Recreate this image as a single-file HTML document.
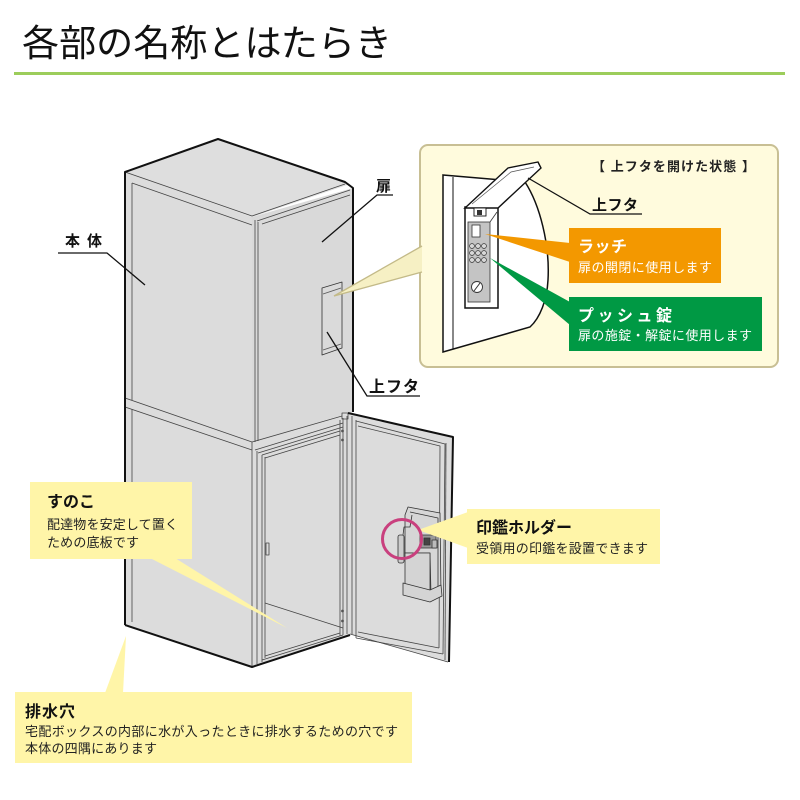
<!DOCTYPE html>
<html><head><meta charset="utf-8"><style>
html,body{margin:0;padding:0;background:#fff;}
svg{display:block;}
text{font-family:"Liberation Sans","Noto Sans CJK JP",sans-serif;}
.b{font-weight:bold;}
</style></head><body>
<svg width="800" height="800" viewBox="0 0 800 800" xmlns="http://www.w3.org/2000/svg">
<!-- Title -->
<text x="22" y="56" font-size="37" fill="#111" textLength="370" lengthAdjust="spacingAndGlyphs">各部の名称とはたらき</text>
<rect x="14" y="72" width="771" height="3" fill="#9ccd5b"/>

<!-- ===== Cabinet ===== -->
<g stroke-linejoin="round">
<polygon points="125,172 252,217 252,442 125,398" fill="#dcdcdc"/>
<polygon points="125,172 218,139 350,184 252,217" fill="#dedede"/>
<polygon points="252,217 353,188 353,412 252,442" fill="#d9d9d9"/>
<polygon points="125,398 252,442 252,667 125,625" fill="#dcdcdc"/>
<polygon points="252,442 350,413 350,635 252,667" fill="#dcdcdc"/>
<polygon points="348,413 453,437 449,662 350,634" fill="#dcdcdc"/>

<g fill="none" stroke="#444" stroke-width="0.8">
<polyline points="125,172 252,216 345,184"/>
<polyline points="132,183 252,225"/>
<polyline points="257,221 350,190"/>
<polyline points="262,224 350,195"/>
<line x1="255" y1="220" x2="255" y2="442"/>
<line x1="258" y1="222" x2="258" y2="441"/>
<line x1="132" y1="183" x2="132" y2="400"/>
<polyline points="125,398 252,442 342,416"/>
<polyline points="125,407 252,450"/>
<line x1="252" y1="442" x2="252" y2="667"/>
<line x1="132" y1="409" x2="132" y2="622"/>
<polyline points="255,450 343,423"/>
<polyline points="258,453 343,427"/>
<line x1="257" y1="451" x2="257" y2="664"/>
<line x1="262" y1="455" x2="262" y2="662"/>
<line x1="265" y1="457" x2="265" y2="658"/>
<polyline points="262,455 340,431"/>
<polyline points="265,458 340,435"/>
<polyline points="265,603 343,628"/>
<polyline points="262,660 343,635"/>
<polyline points="265,656 340,633"/>
<rect x="266" y="543" width="3" height="12"/>
<line x1="340" y1="420" x2="340" y2="636"/>
<line x1="343" y1="418" x2="343" y2="635"/>
<line x1="347" y1="416" x2="347" y2="634"/>
<rect x="342" y="413" width="6" height="6"/>
<line x1="352" y1="416" x2="352" y2="634"/>
<line x1="356" y1="420" x2="356" y2="638"/>
<polyline points="356,421 445,444 443,654"/>
<polyline points="358,426 440,446 439,648"/>
<polyline points="356,638 443,654"/>
<polyline points="358,632 439,648"/>
<line x1="446" y1="443" x2="445" y2="660"/>
<polyline points="350,634 448,662"/>
</g>
<g fill="#555">
<circle cx="342.5" cy="431" r="1.4"/><circle cx="342.5" cy="440" r="1.4"/>
<circle cx="342.5" cy="611" r="1.4"/><circle cx="342.5" cy="621" r="1.4"/>
</g>
<polygon points="322,288 342,282 342,348 322,355" fill="#dadada" stroke="#333" stroke-width="0.8"/>
<polyline points="323,294 341,288" fill="none" stroke="#555" stroke-width="0.7"/>
<polyline points="323,350 341,344" fill="none" stroke="#555" stroke-width="0.7"/>

<!-- stamp holder -->
<g fill="none" stroke="#333" stroke-width="0.8">
<polygon points="408,507 440,513 441,595 431,595 430,553 405,553 405,515" fill="#d6d6d6"/>
<polyline points="410,512 438,518 438,593"/>
<rect x="405" y="553" width="25" height="37" fill="#d4d4d4"/>
<polygon points="403,583 403,595 430,602 442,596 441,585 430,590" fill="#d4d4d4"/>
<rect x="398" y="535" width="6" height="28" rx="2" fill="#ccc"/>
<polyline points="403,535 404,527 410,527 412,515"/>
<rect x="420" y="535" width="16" height="13" fill="#999"/>
<rect x="424" y="538" width="6" height="7" fill="#444"/>
<rect x="432" y="540" width="5" height="8" fill="#bbb"/>
</g>

<g fill="none" stroke="#111" stroke-width="2">
<polyline points="125,625 125,172 218,139 345,182 353,188 353,412"/>
<polyline points="125,625 252,667 350,635"/>
<polyline points="348,413 453,437 449,662"/>
</g>
</g>

<!-- labels on cabinet -->
<g fill="none" stroke="#111" stroke-width="1.3">
<polyline points="58,253 107,253 145,285"/>
<polyline points="393,195 377,195 322,242"/>
<polyline points="327,332 367,396 420,396"/>
</g>
<text x="65" y="246" font-size="15" class="b" fill="#111" textLength="37" lengthAdjust="spacing">本 体</text>
<text x="376" y="191" font-size="15" class="b" fill="#111">扉</text>
<text x="369" y="392" font-size="16" class="b" fill="#111" textLength="50">上フタ</text>

<!-- upper callout panel -->
<rect x="420" y="145" width="358" height="222" rx="8" fill="#fffbdd" stroke="#c8bf94" stroke-width="2"/>
<polygon points="334,296 422,246 422,272" fill="#f6f0c4"/>
<polyline points="422,246 334,296 422,272" fill="none" stroke="#c3ba88" stroke-width="1.3"/>

<text x="592" y="171" font-size="13" class="b" fill="#222" textLength="163" lengthAdjust="spacing">【 上フタを開けた状態 】</text>

<!-- mini door illustration -->
<path d="M443,175 L525,182 C540,205 550,245 548,280 C547,300 540,318 530,327 L443,352 Z" fill="#fff" stroke="#111" stroke-width="1.5"/>
<line x1="453" y1="177" x2="453" y2="349" stroke="#111" stroke-width="1"/>
<rect x="465" y="207" width="33" height="101" fill="#fff" stroke="#111" stroke-width="1.5"/>
<rect x="468" y="222" width="22" height="80" fill="#c4c4c4" stroke="#333" stroke-width="0.8"/>
<polyline points="490,222 497,212" stroke="#333" stroke-width="0.8" fill="none"/>
<rect x="472" y="225" width="8" height="12" fill="#fff" stroke="#333" stroke-width="0.8"/>
<g fill="#d8d8d8" stroke="#333" stroke-width="0.7">
<circle cx="472" cy="246" r="2.4"/><circle cx="478" cy="246" r="2.4"/><circle cx="484" cy="246" r="2.4"/>
<circle cx="472" cy="253" r="2.4"/><circle cx="478" cy="253" r="2.4"/><circle cx="484" cy="253" r="2.4"/>
<circle cx="472" cy="260" r="2.4"/><circle cx="478" cy="260" r="2.4"/><circle cx="484" cy="260" r="2.4"/>
</g>
<circle cx="477" cy="287" r="5.5" fill="#fff" stroke="#333" stroke-width="0.9"/>
<line x1="474" y1="291" x2="480" y2="283" stroke="#333" stroke-width="1"/>
<!-- lid (wide plate) -->
<polygon points="465,208 508,168 538,162 541,168 498,208" fill="#fff" stroke="#111" stroke-width="1.4"/>
<polyline points="472,204 511,172 534,167" fill="none" stroke="#555" stroke-width="0.7"/>
<rect x="474" y="208" width="12" height="8" fill="#fff" stroke="#111" stroke-width="0.9"/>
<rect x="477" y="210" width="5" height="5" fill="#333"/>

<!-- panel 上フタ -->
<polyline points="528,178 590,214 642,214" fill="none" stroke="#111" stroke-width="1.3"/>
<text x="592" y="210" font-size="15" class="b" fill="#111" textLength="46">上フタ</text>

<!-- orange -->
<polygon points="485,234 570,243 570,262" fill="#f39800"/>
<rect x="569" y="228" width="152" height="55" fill="#f39800"/>
<text x="578" y="252" font-size="16" class="b" fill="#fff" textLength="49">ラッチ</text>
<text x="578" y="272" font-size="13" fill="#fff" textLength="134">扉の開閉に使用します</text>
<!-- green -->
<polygon points="490,258 570,302 570,325" fill="#009944"/>
<rect x="569" y="297" width="193" height="54" fill="#009944"/>
<text x="578" y="321" font-size="16" class="b" fill="#fff" textLength="94">プッシュ錠</text>
<text x="578" y="340" font-size="13" fill="#fff" textLength="174">扉の施錠・解錠に使用します</text>

<!-- すのこ -->
<polygon points="150,558 175,558 287,628" fill="#fff5a8"/>
<rect x="30" y="482" width="162" height="77" fill="#fff5a8"/>
<text x="47" y="507" font-size="16" class="b" fill="#111" textLength="48">すのこ</text>
<text x="47" y="529" font-size="13" fill="#222" textLength="131">配達物を安定して置く</text>
<text x="47" y="547" font-size="13" fill="#222" textLength="92">ための底板です</text>

<!-- 排水穴 -->
<polygon points="126,636 105,693 123,693" fill="#fff5a8"/>
<rect x="15" y="692" width="397" height="71" fill="#fff5a8"/>
<text x="25" y="717" font-size="16" class="b" fill="#111" textLength="50">排水穴</text>
<text x="25" y="736" font-size="13" fill="#222" textLength="373">宅配ボックスの内部に水が入ったときに排水するための穴です</text>
<text x="25" y="753" font-size="13" fill="#222" textLength="132">本体の四隅にあります</text>

<!-- 印鑑ホルダー -->
<polygon points="418,530 468,512 468,548" fill="#fff5a8"/>
<rect x="467" y="509" width="193" height="55" fill="#fff5a8"/>
<text x="476" y="533" font-size="16" class="b" fill="#111" textLength="96">印鑑ホルダー</text>
<text x="476" y="553" font-size="13" fill="#222" textLength="172">受領用の印鑑を設置できます</text>
<circle cx="402" cy="539" r="19.5" fill="none" stroke="#c9407e" stroke-width="3"/>
</svg>
</body></html>
